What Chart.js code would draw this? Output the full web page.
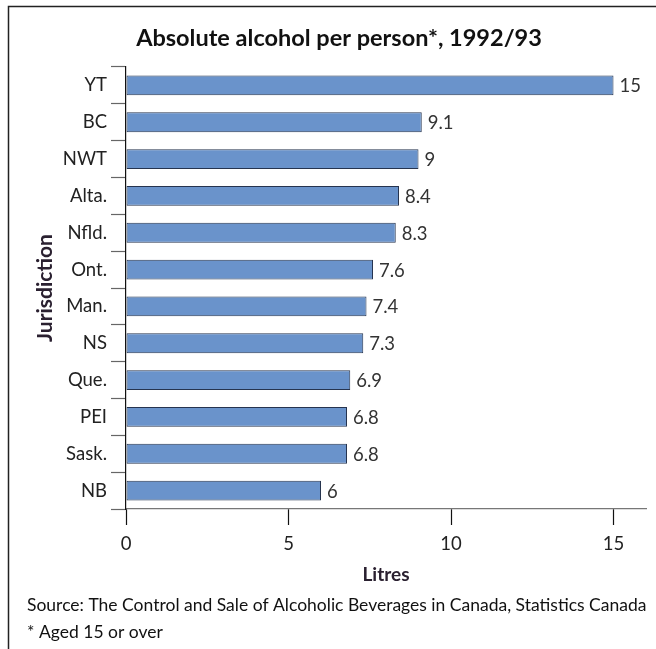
<!DOCTYPE html>
<html>
<head>
<meta charset="utf-8">
<script src="https://cdn.jsdelivr.net/npm/chart.js@4/dist/chart.umd.min.js"></script>
<style>
  html, body { margin: 0; padding: 0; background: #fff; }
  #wrap { width: 656px; height: 649px; position: relative; }
</style>
</head>
<body>
<div id="wrap"><canvas id="chart" width="656" height="649"></canvas></div>
<script>
// --- DATA ---
const jurisdictions = ['YT', 'BC', 'NWT', 'Alta.', 'Nfld.', 'Ont.', 'Man.', 'NS', 'Que.', 'PEI', 'Sask.', 'NB'];
const litres = [15, 9.1, 9, 8.4, 8.3, 7.6, 7.4, 7.3, 6.9, 6.8, 6.8, 6];
const xTicks = [0, 5, 10, 15];

const titleText = 'Absolute alcohol per person*, 1992/93';
const xTitle = 'Litres';
const yTitle = 'Jurisdiction';
const sourceNote = 'Source: The Control and Sale of Alcoholic Beverages in Canada, Statistics Canada';
const footNote = '* Aged 15 or over';

const FONT = 'Lato, "Open Sans", sans-serif';

// frame, titles, value labels
const extras = {
    id: 'extras',
    afterDraw(chart) {
        const ctx = chart.ctx;
        const area = chart.chartArea;
        ctx.save();

        // frame (top + left edges)
        ctx.strokeStyle = '#222';
        ctx.lineWidth = 1.5;
        ctx.beginPath();
        ctx.moveTo(656, 6.5);
        ctx.lineTo(8.5, 6.5);
        ctx.lineTo(8.5, 649);
        ctx.stroke();

        // title
        ctx.fillStyle = '#111';
        ctx.textAlign = 'center';
        ctx.textBaseline = 'middle';
        ctx.font = 'bold 23.5px ' + FONT;
        ctx.fillText(titleText, 339, 38);

        // axis titles
        ctx.fillStyle = '#2a2030';
        ctx.font = 'bold 19px ' + FONT;
        ctx.fillText(xTitle, (area.left + area.right) / 2, 575);
        ctx.save();
        ctx.translate(45, (area.top + area.bottom) / 2);
        ctx.rotate(-Math.PI / 2);
        ctx.font = 'bold 21px ' + FONT;
        ctx.fillText(yTitle, 0, 0);
        ctx.restore();

        // notes
        ctx.fillStyle = '#111';
        ctx.textAlign = 'left';
        ctx.font = '17.5px ' + FONT;
        ctx.fillText(sourceNote, 27, 605);
        ctx.fillText(footNote, 27, 632);

        // value labels
        const meta = chart.getDatasetMeta(0);
        ctx.font = '18.5px ' + FONT;
        ctx.fillStyle = '#333';
        meta.data.forEach((bar, i) => {
            ctx.fillText(String(litres[i]), bar.x + 6, bar.y + 1);
        });
        ctx.restore();
    }
};

new Chart(document.getElementById('chart'), {
    type: 'bar',
    data: {
        labels: jurisdictions,
        datasets: [{
            data: litres,
            backgroundColor: '#6a93cb',
            borderColor: '#26344f',
            borderWidth: 1,
            borderSkipped: false,
            barPercentage: 0.54,
            categoryPercentage: 1
        }]
    },
    options: {
        indexAxis: 'y',
        responsive: false,
        animation: false,
        layout: { padding: { left: 0, top: 67, right: 10, bottom: 0 } },
        plugins: {
            legend: { display: false },
            tooltip: { enabled: false },
            title: { display: false }
        },
        scales: {
            x: {
                min: 0,
                max: 16,
                afterBuildTicks: s => { s.ticks = xTicks.map(v => ({ value: v })); },
                afterFit: s => { s.height = 140; },
                grid: { drawOnChartArea: false, tickLength: 16, color: '#111', tickWidth: 1.2 },
                border: { color: '#777', width: 1.2 },
                ticks: { color: '#222', font: { family: FONT, size: 18.5 }, padding: 8, maxRotation: 0 }
            },
            y: {
                afterFit: s => { s.width = 126; },
                grid: { offset: true, drawOnChartArea: false, tickLength: 15, color: '#666', tickWidth: 1.2 },
                border: { color: '#111', width: 1.2 },
                ticks: { color: '#222', font: { family: FONT, size: 18.5 }, padding: 4 }
            }
        }
    },
    plugins: [extras]
});
</script>
</body>
</html>
